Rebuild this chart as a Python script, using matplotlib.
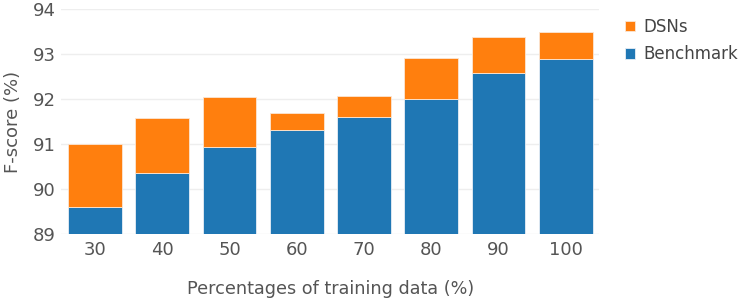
import matplotlib.pyplot as plt
import numpy as np

# ── Data ──────────────────────────────────────────────────────────────────────
categories = ["30", "40", "50", "60", "70", "80", "90", "100"]
benchmark = [89.61, 90.35, 90.93, 91.31, 91.61, 92.00, 92.57, 92.90]
dsns_total = [91.00, 91.57, 92.05, 91.68, 92.07, 92.92, 93.37, 93.50]
y_ticks = [89, 90, 91, 92, 93, 94]

BLUE = "#1f77b4"
ORANGE = "#ff7f0e"
TEXT = "#555555"

plt.rcParams["font.family"] = ["DejaVu Sans"]

fig = plt.figure(figsize=(7.47, 3.02), dpi=100)
ax = fig.add_axes([0.0822, 0.2252, 0.7201, 0.7448])

x = np.arange(len(categories))
base = 89
bench = np.array(benchmark)
extra = np.array(dsns_total) - bench

ax.bar(x, bench - base, bottom=base, width=0.8, color=BLUE,
       edgecolor="#e8eef5", linewidth=0.6, label="Benchmark", zorder=2)
ax.bar(x, extra, bottom=bench, width=0.8, color=ORANGE,
       edgecolor="#fbe6d4", linewidth=0.6, label="DSNs", zorder=2)

ax.set_xlim(-0.5, len(categories) - 0.5)
ax.set_ylim(89, 94)
ax.set_xticks(x)
ax.set_xticklabels(categories)
ax.set_yticks(y_ticks)
ax.tick_params(axis="both", length=0, labelsize=13, colors=TEXT)
ax.tick_params(axis="y", pad=4)
ax.tick_params(axis="x", pad=5)
ax.grid(axis="y", color="#eeeeee", linewidth=1, zorder=0)
for s in ax.spines.values():
    s.set_visible(False)

ax.set_xlabel("Percentages of training data (%)", fontsize=12.7, color=TEXT, labelpad=15)
ax.set_ylabel("F-score (%)", fontsize=13, color=TEXT, labelpad=8)

handles, labels = ax.get_legend_handles_labels()
leg = fig.legend(handles[::-1], labels[::-1], loc="upper left",
                 bbox_to_anchor=(0.817, 0.99), frameon=False, fontsize=12,
                 handlelength=0.6, handleheight=0.6, handletextpad=0.5,
                 labelspacing=0.55, labelcolor="#444444")

fig.savefig("out.png", dpi=100)
